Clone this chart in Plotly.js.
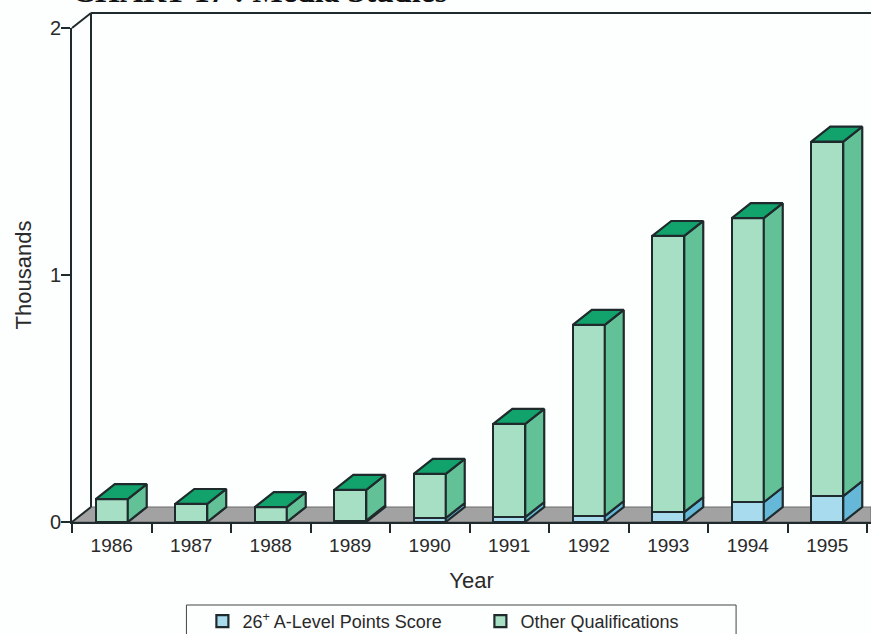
<!DOCTYPE html>
<html>
<head>
<meta charset="utf-8">
<script src="https://cdn.plot.ly/plotly-3.0.1.min.js"></script>
<style>html,body{margin:0;padding:0;background:#fdfefe;overflow:hidden}</style>
</head>
<body>
<div id="chart" style="width:871px;height:634px"></div>
<script>
// Media Studies entrants, thousands, split by qualification
const years = [1986, 1987, 1988, 1989, 1990, 1991, 1992, 1993, 1994, 1995];
const points26 = [0, 0, 0, 0.006, 0.016, 0.02, 0.024, 0.04, 0.08, 0.105];
const totals = [0.093, 0.073, 0.06, 0.13, 0.195, 0.397, 0.798, 1.158, 1.23, 1.54];
const otherQual = totals.map((t, i) => +(t - points26[i]).toFixed(3));

const seriesNames = ['26<sup>+</sup> A-Level Points Score', 'Other Qualifications'];

// Oblique projection used for the box sides, in axis units
const depthX = 0.239, depthY = 0.0607, barWidth = 0.402;
const xMin = 1985.5, xMax = 1995.55;

const ink = '#1f2a2c';
const font = 'Liberation Sans, Arial, sans-serif';

// One null-separated outline per bar, through the plot's own axes
function facePolys(lower, upper, kind) {
  const xs = [], ys = [];
  years.forEach((yr, i) => {
    const r = yr + barWidth / 2, l = yr - barWidth / 2;
    const a = lower[i], b = upper[i];
    if (kind === 'side') {
      xs.push(r, r + depthX, r + depthX, r, r, null);
      ys.push(a, a + depthY, b + depthY, b, a, null);
    } else {
      xs.push(l, r, r + depthX, l + depthX, l, null);
      ys.push(b, b, b + depthY, b + depthY, b, null);
    }
  });
  return {x: xs, y: ys};
}

function polyTrace(poly, color) {
  return {
    type: 'scatter', mode: 'lines', x: poly.x, y: poly.y,
    fill: 'toself', fillcolor: color, connectgaps: false,
    line: {color: ink, width: 2.2}, hoverinfo: 'skip', showlegend: false
  };
}

const zeros = years.map(() => 0);
const traces = [
  {type: 'bar', name: seriesNames[0], x: years, y: points26, width: barWidth,
   marker: {color: '#a9dbee', line: {color: ink, width: 2.2}}},
  {type: 'bar', name: seriesNames[1], x: years, y: otherQual, width: barWidth,
   marker: {color: '#a6dfc4', line: {color: ink, width: 2.2}}},
  polyTrace(facePolys(zeros, points26, 'side'), '#66b8d8'),
  polyTrace(facePolys(points26, totals, 'side'), '#62c197'),
  polyTrace(facePolys(zeros, totals, 'top'), '#12a26c')
];

const plotW = 799.5, plotH = 494, pxPerYear = plotW / (xMax - xMin);
const wallDx = depthX * pxPerYear / plotW;
const wallDy = depthY / 2;
const frame = {color: ink, width: 2};

const layout = {
  width: 871, height: 634,
  margin: {l: 71.5, r: 0, t: 28, b: 112, autoexpand: false},
  paper_bgcolor: '#fdfefe', plot_bgcolor: 'rgba(0,0,0,0)',
  barmode: 'stack', bargap: 0,
  font: {family: font, color: '#2a2a2a', size: 19},
  title: {
    text: '<b>CHART 17 : Media Studies</b>',
    font: {family: 'Liberation Serif, serif', size: 32, color: '#111'},
    x: 72 / 871, xanchor: 'left', xref: 'container',
    y: 0.997, yanchor: 'bottom', yref: 'container', pad: {t: 0, b: 0}
  },
  xaxis: {
    range: [xMin, xMax], tickmode: 'array', tickvals: years,
    ticktext: years.map(String), ticks: 'outside', ticklen: 5,
    tickcolor: 'rgba(0,0,0,0)', showgrid: false, zeroline: false,
    showline: true, linecolor: ink, linewidth: 2,
    tickfont: {size: 19},
    minor: {
      tickmode: 'array',
      tickvals: [1985.5, 1986.5, 1987.5, 1988.5, 1989.5, 1990.5, 1991.5, 1992.5, 1993.5, 1994.5, 1995.5],
      ticks: 'outside', ticklen: 9, tickwidth: 2, tickcolor: ink, showgrid: false
    },
    title: {text: 'Year', font: {size: 22}, standoff: 18}
  },
  yaxis: {
    range: [0, 2], tickmode: 'array', tickvals: [0, 1, 2], ticktext: ['0', '1', '2'],
    ticks: 'outside', ticklen: 9, tickwidth: 2, tickcolor: ink,
    showgrid: false, zeroline: false, showline: true, linecolor: ink, linewidth: 2,
    tickfont: {size: 20}, ticklabelstandoff: -4,
    title: {text: 'Thousands', font: {size: 22}, standoff: 12}
  },
  legend: {
    orientation: 'h', x: 0.1632, xanchor: 'left', y: -0.164, yanchor: 'top',
    yref: 'paper', borderwidth: 0, bgcolor: 'rgba(0,0,0,0)',
    font: {size: 18}, entrywidth: 233, entrywidthmode: 'pixels',
    itemclick: false, itemdoubleclick: false, traceorder: 'normal'
  },
  shapes: [
    // floor, behind the bars
    {type: 'path', layer: 'below', xref: 'x', yref: 'y',
     path: `M${xMin},0 L${xMin + depthX},${depthY} L${xMax},${depthY} L${xMax},0 Z`,
     fillcolor: '#a2a2a2', line: {color: '#6a6a6a', width: 1}},
    // side wall and back wall edges
    {type: 'line', xref: 'paper', yref: 'paper', x0: 0, y0: 0, x1: wallDx, y1: wallDy, line: frame},
    {type: 'line', xref: 'paper', yref: 'paper', x0: 0, y0: 1, x1: wallDx, y1: 1 + wallDy, line: frame},
    {type: 'line', xref: 'paper', yref: 'paper', x0: wallDx, y0: wallDy, x1: wallDx, y1: 1 + wallDy, line: frame},
    {type: 'line', xref: 'paper', yref: 'paper', x0: wallDx, y0: 1 + wallDy, x1: 1, y1: 1 + wallDy, line: frame},
    // key box, running off the lower edge of the page
    {type: 'rect', xref: 'paper', yref: 'paper', x0: 114.5 / plotW, x1: 664.5 / plotW,
     y0: -130 / plotH, y1: -83 / plotH, line: {color: '#444', width: 1}, fillcolor: 'rgba(0,0,0,0)'}
  ]
};

Plotly.newPlot('chart', traces, layout, {displayModeBar: false});
</script>
</body>
</html>
